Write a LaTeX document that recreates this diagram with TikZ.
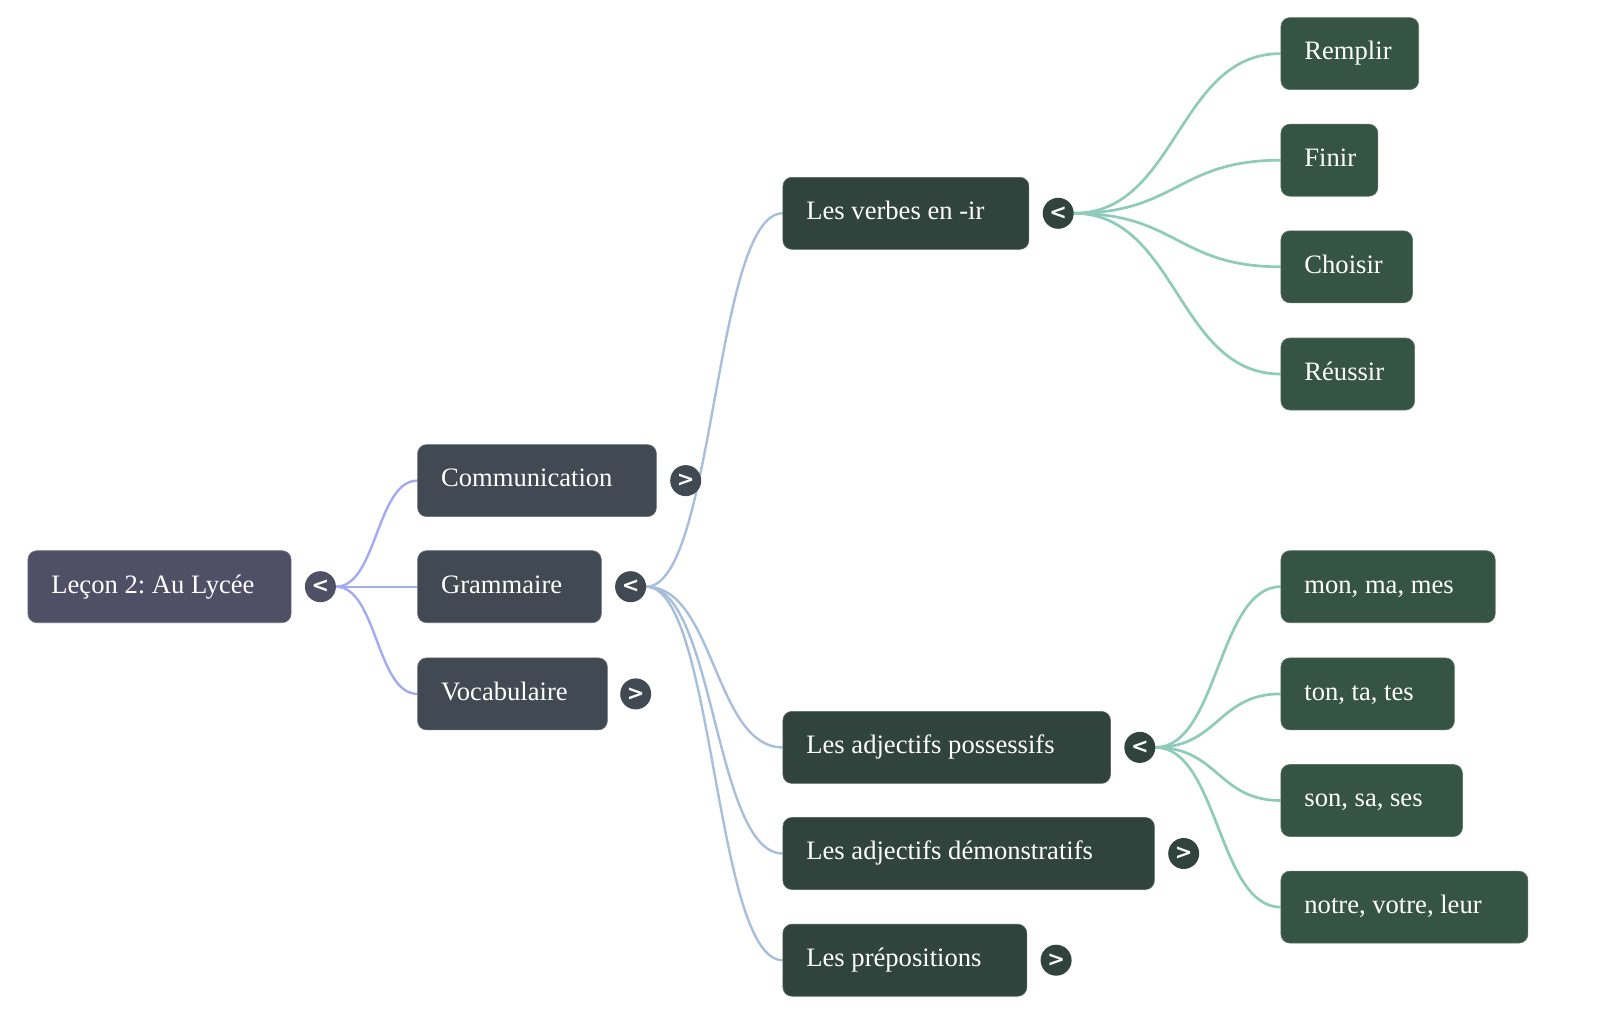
\documentclass[tikz,border=0pt]{standalone}
\usepackage{fontspec}
\setmainfont{Liberation Serif}
\newfontfamily\symfont{DejaVu Sans}
\usetikzlibrary{backgrounds}
\frenchspacing
\definecolor{cRoot}{HTML}{4F5066}
\definecolor{cOne}{HTML}{414A53}
\definecolor{cTwo}{HTML}{31433D}
\definecolor{cThree}{HTML}{365443}
\definecolor{lRoot}{HTML}{A3AAF2}
\definecolor{lOne}{HTML}{A8BFDC}
\definecolor{lTwo}{HTML}{8ECBB9}
\newcommand\mmbox[6]{\node[mmnode,fill=#5,draw=#5!80!white] (#1) at (#2,#3) {\makebox[#4pt][l]{#6}};}
\newcommand\mmtog[5]{\node[mmtog,fill=#4] (#1) at (#2,#3) {#5};}
\newcommand\mmlink[3]{\path (#2.east) -- coordinate[pos=0.5] (mid) (#3.west);
  \draw[#1] (#2.east) .. controls (mid |- #2.east) and (mid |- #3.west) .. (#3.west);}
\begin{document}
\begin{tikzpicture}[x=1pt,y=-1pt,
  mmnode/.style={rectangle, rounded corners=9pt, anchor=west, minimum height=72pt,
    inner xsep=23.5pt, inner ysep=0pt, line width=0.6pt, text=white,
    font=\fontsize{26.6}{30}\selectfont, text height=18.5pt, text depth=5.9pt},
  mmtog/.style={circle, minimum size=31pt, inner sep=0pt, text=white,
    font=\symfont\bfseries\fontsize{21}{21}\selectfont},
  linkA/.style={draw=lRoot, line width=2.4pt},
  linkB/.style={draw=lOne, line width=2.4pt},
  linkC/.style={draw=lTwo, line width=2.7pt}]
\useasboundingbox (0,0) rectangle (1600,1014);

% nodes
\mmbox{root}{27.6}{586.7}{216.2}{cRoot}{Leçon 2: Au Lycée}
\mmbox{comm}{417.3}{480.6}{191.8}{cOne}{Communication}
\mmbox{gram}{417.3}{586.7}{136.7}{cOne}{Grammaire}
\mmbox{voc}{417.3}{693.9}{142.8}{cOne}{Vocabulaire}
\mmbox{verbes}{782.6}{213.3}{199}{cTwo}{Les verbes en -ir}
\mmbox{poss}{782.6}{747.4}{280.6}{cTwo}{Les adjectifs possessifs}
\mmbox{demo}{782.6}{853.5}{324.5}{cTwo}{Les adjectifs démonstratifs}
\mmbox{prep}{782.6}{960.2}{196.9}{cTwo}{Les prépositions}
\mmbox{remplir}{1280.6}{53.6}{90.8}{cThree}{Remplir}
\mmbox{finir}{1280.6}{160.2}{50}{cThree}{Finir}
\mmbox{choisir}{1280.6}{266.8}{84.6}{cThree}{Choisir}
\mmbox{reussir}{1280.6}{374}{86.7}{cThree}{Réussir}
\mmbox{mon}{1280.6}{586.7}{167.3}{cThree}{mon, ma, mes}
\mmbox{ton}{1280.6}{693.9}{126.5}{cThree}{ton, ta, tes}
\mmbox{son}{1280.6}{800.5}{134.6}{cThree}{son, sa, ses}
\mmbox{notre}{1280.6}{907.1}{200}{cThree}{notre, votre, leur}

% toggles
\mmtog{rootT}{320.4}{586.7}{cRoot}{<}
\mmtog{commT}{685.7}{480.6}{cOne}{>}
\mmtog{gramT}{630.6}{586.7}{cOne}{<}
\mmtog{vocT}{635.7}{693.9}{cOne}{>}
\mmtog{verbesT}{1058.2}{213.3}{cTwo}{<}
\mmtog{possT}{1139.8}{747.4}{cTwo}{<}
\mmtog{demoT}{1183.7}{853.5}{cTwo}{>}
\mmtog{prepT}{1056.1}{960.2}{cTwo}{>}

% links (behind)
\begin{scope}[on background layer]
\mmlink{linkA}{rootT}{comm}
\mmlink{linkA}{rootT}{gram}
\mmlink{linkA}{rootT}{voc}
\mmlink{linkB}{gramT}{verbes}
\mmlink{linkB}{gramT}{poss}
\mmlink{linkB}{gramT}{demo}
\mmlink{linkB}{gramT}{prep}
\mmlink{linkC}{verbesT}{remplir}
\mmlink{linkC}{verbesT}{finir}
\mmlink{linkC}{verbesT}{choisir}
\mmlink{linkC}{verbesT}{reussir}
\mmlink{linkC}{possT}{mon}
\mmlink{linkC}{possT}{ton}
\mmlink{linkC}{possT}{son}
\mmlink{linkC}{possT}{notre}
\end{scope}
\end{tikzpicture}
\end{document}
